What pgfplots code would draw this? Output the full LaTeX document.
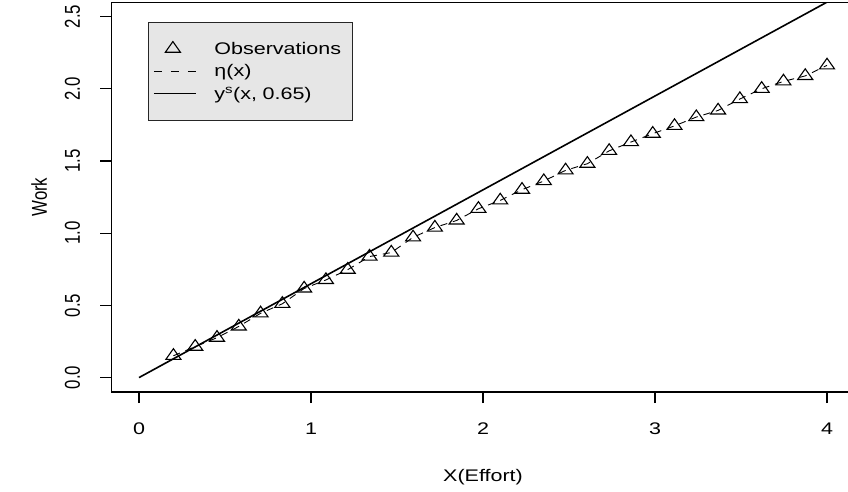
\documentclass[border=0pt]{standalone}
\usepackage{fontspec}
\setmainfont[FakeStretch=1.28]{Liberation Sans}
\newfontfamily\plainfont{Liberation Sans}
\usepackage{pgfplots}
\usepackage{pgfplotstable}
\pgfplotsset{compat=1.18}
\definecolor{legfill}{HTML}{E6E6E6}
% rotated text: stretch the glyph height instead of the line length
\newcommand\vs[1]{{\plainfont\scalebox{1}[1.28]{#1}}}

\pgfplotsset{
  markleg/.style={legend image code/.code={\path (0pt,0pt) (42pt,0pt);
    \draw[##1] plot coordinates {(19pt,0pt)};}},
  dashleg/.style={legend image code/.code={\draw[##1, dash pattern=on 8pt off 9pt] (0pt,0pt) -- (42pt,0pt);}},
  lineleg/.style={legend image code/.code={\draw[##1, line width=1pt] (0pt,0pt) -- (42pt,0pt);}},
}

\pgfplotstableread{
x y
0.2000 0.151
0.3267 0.214
0.4533 0.276
0.5800 0.354
0.7067 0.445
0.8333 0.511
0.9600 0.617
1.0867 0.676
1.2133 0.747
1.3400 0.838
1.4667 0.866
1.5933 0.971
1.7200 1.039
1.8467 1.088
1.9733 1.169
2.1000 1.227
2.2267 1.301
2.3533 1.361
2.4800 1.435
2.6067 1.481
2.7333 1.570
2.8600 1.631
2.9867 1.689
3.1133 1.743
3.2400 1.804
3.3667 1.850
3.4933 1.929
3.6200 2.000
3.7467 2.051
3.8733 2.089
4.0000 2.162
}\obs

\begin{document}
\begin{tikzpicture}[font=\fontsize{16.8pt}{20pt}\selectfont]
\begin{axis}[at={(111.5pt,99pt)}, anchor=south west, scale only axis,
  width=743.04pt, height=389.88pt,
  xmin=-0.16, xmax=4.16, ymin=-0.1, ymax=2.6,
  xtick={0,1,2,3,4}, ytick={0,0.5,1,1.5,2,2.5},
  yticklabels={\vs{0.0},\vs{0.5},\vs{1.0},\vs{1.5},\vs{2.0},\vs{2.5}},
  xtick pos=left, ytick pos=left, tick align=outside,
  major tick length=11pt, every tick/.style={black, line width=1.1pt},
  axis line style={line width=1.2pt},
  /pgf/number format/assume math mode=true,
  xticklabel style={anchor=base, inner sep=0pt}, xticklabel shift=31pt,
  yticklabel style={anchor=base, rotate=90, inner sep=0pt}, yticklabel shift=20.5pt,
  xlabel={X(Effort)}, ylabel={\vs{Work}},
  every axis x label/.style={at={(axis description cs:0.5,0)}, yshift=-89pt, anchor=base},
  every axis y label/.style={at={(axis description cs:0,0.5)}, xshift=-64.5pt, rotate=90, anchor=base},
  legend style={at={(axis description cs:0.0491,0.949)}, anchor=north west,
    fill=legfill, draw=black!85, line width=0.8pt, inner xsep=5pt, inner ysep=15pt,
    nodes={inner sep=0pt, text height=17pt, text depth=5.5pt, text width=133pt},
    row sep=0pt,
    /tikz/every odd column/.append style={column sep=18pt},
    /tikz/every even column/.append style={column sep=0pt}},
  legend cell align=left]
\addplot[only marks, mark=triangle, mark size=7.1pt,
  mark options={xscale=1.22, line width=1.1pt, black}, markleg]
  table[x=x, y=y] {\obs};
\addlegendentry{Observations}
\addplot[black, line width=0.9pt, dash pattern=on 7pt off 6pt, dashleg]
  table[x=x, y=y] {\obs};
\addlegendentry{η(x)}
\addplot[black, line width=1.6pt, lineleg]
  coordinates {(0,0) (4,2.6)};
\addlegendentry{y\textsuperscript{s}(x, 0.65)}
\end{axis}
\pgfresetboundingbox
\useasboundingbox (0,0) rectangle (848pt,491pt);
\end{tikzpicture}
\end{document}
